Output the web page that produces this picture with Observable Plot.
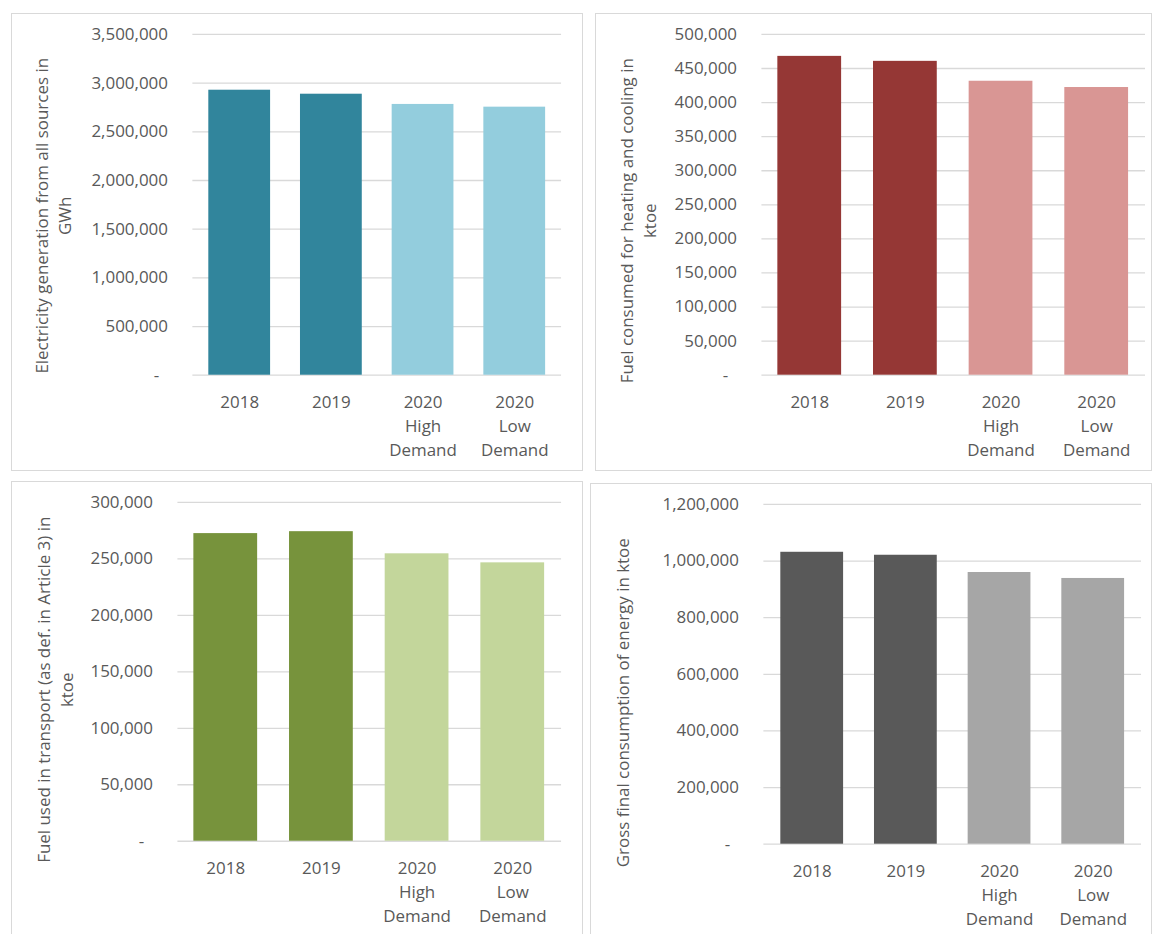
<!DOCTYPE html>
<html>
<head>
<meta charset="utf-8">
<script src="https://cdn.jsdelivr.net/npm/d3@7"></script>
<script src="https://cdn.jsdelivr.net/npm/@observablehq/plot@0.6"></script>
<style>
  body { margin: 0; background: #fff; width: 1153px; height: 934px; overflow: hidden; position: relative; font-family: "Open Sans", sans-serif; }
  .panel { position: absolute; border: 1px solid #d9d9d9; box-sizing: border-box; background: #fff; }
  .panel svg { position: absolute; left: -1px; top: -1px; }
</style>
</head>
<body>
<div id="p1" class="panel"></div>
<div id="p2" class="panel"></div>
<div id="p3" class="panel"></div>
<div id="p4" class="panel"></div>
<script>
// ---- data ----
const categories = ["2018", "2019", "2020\nHigh\nDemand", "2020\nLow\nDemand"];
const electricityGWh = [2927000, 2886000, 2781000, 2753000];
const heatingCoolingKtoe = [467800, 460500, 431300, 422100];
const transportKtoe = [272400, 274100, 254500, 246500];
const grossFinalKtoe = [1031000, 1020500, 959600, 938500];
const ticksElectricity = [0, 500000, 1000000, 1500000, 2000000, 2500000, 3000000, 3500000];
const ticksHeating = [0, 50000, 100000, 150000, 200000, 250000, 300000, 350000, 400000, 450000, 500000];
const ticksTransport = [0, 50000, 100000, 150000, 200000, 250000, 300000];
const ticksGross = [0, 200000, 400000, 600000, 800000, 1000000, 1200000];
const titleElectricity = "Electricity generation from all sources in\nGWh";
const titleHeating = "Fuel consumed for heating and cooling in\nktoe";
const titleTransport = "Fuel used in transport (as def. in Article 3) in\nktoe";
const titleGross = "Gross final consumption of energy in ktoe";

// ---- layout / style ----
const TEXT = "#595959";
const GRID = "#d9d9d9";
const panels = [
  {id: "p1", box: [11, 13, 572, 458], plot: [193, 34, 563, 376], values: electricityGWh, ticks: ticksElectricity,
   title: titleElectricity, titleX: 41.2, titleY: 203, colors: ["#31859C", "#93CDDD"]},
  {id: "p2", box: [595, 13, 557, 458], plot: [762, 34, 1147, 376], values: heatingCoolingKtoe, ticks: ticksHeating,
   title: titleHeating, titleX: 41.5, titleY: 208, colors: ["#953735", "#D99694"]},
  {id: "p3", box: [11, 481, 572, 460], plot: [178, 502, 563, 842], values: transportKtoe, ticks: ticksTransport,
   title: titleTransport, titleX: 42.5, titleY: 209, colors: ["#77933C", "#C3D69B"]},
  {id: "p4", box: [590, 483, 562, 460], plot: [764, 504, 1143, 845], values: grossFinalKtoe, ticks: ticksGross,
   title: titleGross, titleX: 31, titleY: 220, colors: ["#595959", "#A6A6A6"]}
];

const fmt = d => d === 0 ? "-\u00a0\u00a0" : d3.format(",")(d);

for (const p of panels) {
  const [bx, by, bw, bh] = p.box;
  const [x0, y0, x1, y1] = p.plot;
  const el = document.getElementById(p.id);
  el.style.left = bx + "px";
  el.style.top = by + "px";
  el.style.width = bw + "px";
  el.style.height = bh + "px";
  const marginLeft = x0 - bx, marginTop = y0 - by;
  const marginRight = bw - (x1 - bx), marginBottom = bh - (y1 - by);
  const data = categories.map((c, i) => ({cat: c, value: p.values[i]}));
  const chart = Plot.plot({
    width: bw, height: bh,
    marginLeft, marginRight, marginTop, marginBottom,
    style: {fontFamily: '"Open Sans", sans-serif', fontSize: "17px", color: TEXT, background: "transparent", overflow: "visible"},
    x: {domain: categories, paddingInner: 0.33, paddingOuter: 0.165, axis: null},
    y: {domain: [0, p.ticks[p.ticks.length - 1]], axis: null},
    color: {domain: categories, range: [p.colors[0], p.colors[0], p.colors[1], p.colors[1]]},
    marks: [
      Plot.gridY(p.ticks, {stroke: GRID, strokeOpacity: 1, strokeWidth: 1.3}),
      Plot.barY(data, {x: "cat", y: "value", fill: "cat"}),
      Plot.axisY(p.ticks, {tickSize: 0, tickPadding: 25, tickFormat: fmt, fontSize: 17, fill: TEXT, label: null}),
      Plot.axisX({tickSize: 0, tickPadding: 16, lineHeight: 1.41, fontSize: 17, fill: TEXT, label: null}),
      Plot.text([p.title], {
        frameAnchor: "top-left", rotate: -90,
        dx: p.titleX - marginLeft, dy: p.titleY - marginTop,
        text: d => d, textAnchor: "middle", lineAnchor: "middle", lineHeight: 1.36,
        fontSize: 17, fill: TEXT
      })
    ]
  });
  el.appendChild(chart);
}
</script>
</body>
</html>
